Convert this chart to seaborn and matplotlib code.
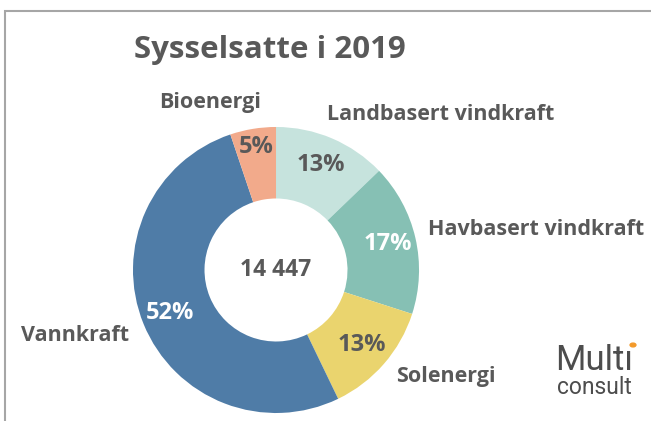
import matplotlib
matplotlib.use('Agg')
import numpy as np
import matplotlib.pyplot as plt
import seaborn as sns
from matplotlib.patches import Rectangle

# data (order: clockwise from 12 o'clock)
categories = ['Landbasert vindkraft', 'Havbasert vindkraft', 'Solenergi', 'Vannkraft', 'Bioenergi']
employees = [1850, 2480, 1860, 7510, 747]
colors = ['#C6E3DD', '#86C0B4', '#EAD46E', '#4F7CA7', '#F2AA8B']
pct_colors = ['#595959', '#FFFFFF', '#595959', '#FFFFFF', '#595959']
title = 'Sysselsatte i 2019'

sns.set_theme(style='white')
plt.rcParams['font.family'] = ['Open Sans', 'DejaVu Sans']
grey = '#595959'

fig = plt.figure(figsize=(6.51, 4.21), dpi=100)
ax = fig.add_axes([0, 0, 1, 1])

total = sum(employees)
wedges, _ = ax.pie(employees, colors=colors, startangle=90, counterclock=False,
                   radius=1, wedgeprops=dict(width=0.5, linewidth=0))

# percent labels inside the ring
pct_radius = [0.80, 0.80, 0.80, 0.80, 0.87]
cum = 0
for val, col, r in zip(employees, pct_colors, pct_radius):
    mid = cum + val / 2
    ang = np.deg2rad(90 - 360 * mid / total)
    ax.text(r * np.cos(ang), r * np.sin(ang), f'{round(100 * val / total)}%',
            ha='center', va='center', fontsize=17, fontweight='bold', color=col)
    cum += val

# category names outside the ring
name_pos = [(1.154, 1.084), (1.818, 0.280), (1.189, -0.748), (-1.402, -0.455), (-0.462, 1.168)]
for name, (x, y) in zip(categories, name_pos):
    ax.text(x, y, name, ha='center', va='center', fontsize=15.5,
            fontweight='bold', color=grey)

ax.text(0, 0, f'{total:,}'.replace(',', ' '), ha='center', va='center',
        fontsize=16.5, fontweight='bold', color=grey)
ax.text(-0.042, 1.483, title, ha='center', va='baseline', fontsize=22.5,
        fontweight='bold', color=grey)

ax.set_xlim(-1.930, 2.622)
ax.set_ylim(-1.056, 1.888)
ax.set_aspect('auto')
ax.axis('off')

# chart border
fig.add_artist(Rectangle((5 / 651, -0.1), 1.2, (421 - 10.5) / 421 + 0.1,
                         transform=fig.transFigure, fill=False,
                         edgecolor='#A6A6A6', linewidth=1.5))

# logo
fig.text(555 / 651, 1 - 370 / 421, 'Mult\u0131', ha='left', va='baseline',
         fontsize=25, color='#4D4D4D', family=['Roboto', 'DejaVu Sans'])
fig.text(557 / 651, 1 - 394 / 421, 'consult', ha='left', va='baseline',
         fontsize=16.5, color='#4D4D4D', family=['Roboto', 'DejaVu Sans'])
fig.add_artist(plt.Circle((633 / 651, 1 - 345 / 421), 0.0045,
                          transform=fig.transFigure, color='#F39A2B'))

fig.savefig('out.png', dpi=100)
